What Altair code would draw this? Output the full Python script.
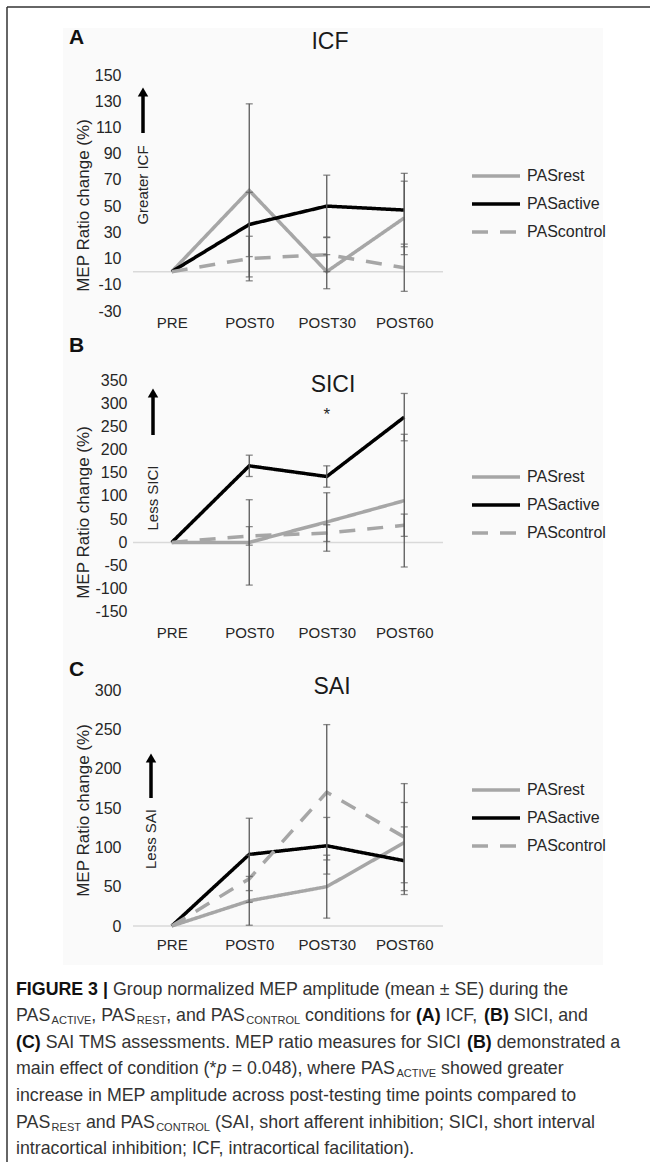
import altair as alt
import pandas as pd

# ---------------- data ----------------
times = ["PRE", "POST0", "POST30", "POST60"]
series = ["PASrest", "PASactive", "PAScontrol"]

icf_rest = [0, 62, 0, 41]
icf_rest_se = [0, 66, 13, 28]
icf_active = [0, 36, 50, 47]
icf_active_se = [0, 24.5, 23.6, 28]
icf_control = [0, 10, 13, 3]
icf_control_se = [0, 17, 13, 18]

sici_rest = [0, 0, 44, 90]
sici_rest_se = [0, 92, 63, 143]
sici_active = [0, 165, 142, 270]
sici_active_se = [0, 23, 23, 51]
sici_control = [0, 14, 20, 37]
sici_control_se = [0, 20, 18, 24]

sai_rest = [0, 32, 50, 106]
sai_rest_se = [0, 31, 40, 51]
sai_active = [0, 91, 102, 83]
sai_active_se = [0, 46, 36, 43]
sai_control = [0, 60, 170, 113]
sai_control_se = [0, 30, 86, 68]

icf_ticks = list(range(-30, 151, 20))
sici_ticks = list(range(-150, 351, 50))
sai_ticks = list(range(0, 301, 50))

star_time = ["POST30"]
star_value = [263]

caption_lines = [
    [("FIGURE 3 | ", "b"), ("Group normalized MEP amplitude (mean \u00b1 SE) during the", "n")],
    [("PAS", "n"), ("ACTIVE", "s"), (", PAS", "n"), ("REST", "s"), (", and PAS", "n"), ("CONTROL", "s"),
     (" conditions for ", "n"), ("(A)", "b"), (" ICF, ", "n"), ("(B)", "b"), (" SICI, and", "n")],
    [("(C)", "b"), (" SAI TMS assessments. MEP ratio measures for SICI ", "n"), ("(B)", "b"),
     (" demonstrated a", "n")],
    [("main effect of condition (*", "n"), ("p", "i"), (" = 0.048), where PAS", "n"), ("ACTIVE", "s"),
     (" showed greater", "n")],
    [("increase in MEP amplitude across post-testing time points compared to", "n")],
    [("PAS", "n"), ("REST", "s"), (" and PAS", "n"), ("CONTROL", "s"),
     (" (SAI, short afferent inhibition; SICI, short interval", "n")],
    [("intracortical inhibition; ICF, intracortical facilitation).", "n")],
]

# ---------------- styling helpers ----------------
FONT = "Liberation Sans"
GRAY = "#A6A6A6"
ERR = "#595959"
TXT = "#262626"


def make_df(vals, ses):
    rows = []
    for s, v, e in zip(series, vals, ses):
        for t, y, se in zip(times, v, e):
            rows.append({"time": t, "series": s, "value": y, "lo": y - se, "hi": y + se, "se": se})
    return pd.DataFrame(rows)


one = pd.DataFrame({"a": [0]})
zero_df = pd.DataFrame({"value": [0]})


def panel(df, ticks, dom, height, letter, title, tpos, letter_y, note, note_pos, arrow, legend_y, label_pad,
          title_y, ylab_pad, star=None, deco=None):
    xenc = alt.X("time:N", sort=times, scale=alt.Scale(type="point", padding=0.5),
                 axis=alt.Axis(title=None, domain=False, ticks=False, labelFontSize=15, zindex=1,
                               labelPadding=label_pad, labelColor=TXT, labelAngle=0))
    yscale = alt.Scale(domain=dom, nice=False, zero=False)
    yaxis = alt.Axis(values=ticks, grid=False, domain=False, ticks=False, labelFontSize=16,
                     labelPadding=ylab_pad, labelColor=TXT, labelOverlap=False, zindex=1,
                     labelExpr="'' + datum.value",
                     title="MEP Ratio change (%)", titleFontSize=17, titleFontWeight="normal",
                     titleColor=TXT, titleX=-50, titleY=title_y, titleAngle=270,
                     titleBaseline="middle", titleAlign="center")

    def Y(f):
        return alt.Y(f, scale=yscale, axis=yaxis)

    leg = alt.Legend(orient="none", legendX=337, legendY=legend_y, title=None, symbolType="stroke",
                     symbolSize=2304, symbolStrokeWidth=3.5, labelFontSize=16, labelColor=TXT,
                     labelOffset=5, clipHeight=16, rowPadding=12, labelFont=FONT)

    base = alt.Chart(df)
    zero = alt.Chart(zero_df).mark_rule(color="#D9D9D9", strokeWidth=1.5).encode(y=Y("value:Q"))
    lines = base.mark_line(strokeWidth=3.5).encode(
        x=xenc, y=Y("value:Q"),
        color=alt.Color("series:N", scale=alt.Scale(domain=series, range=[GRAY, "#000000", GRAY]), legend=leg),
        strokeDash=alt.StrokeDash("series:N", scale=alt.Scale(domain=series, range=[[1, 0], [1, 0], [16, 12]]),
                                  legend=leg),
    )
    eb = base.transform_filter("datum.se > 0")
    bars = eb.mark_rule(color=ERR, strokeWidth=1.3).encode(x=xenc, y=Y("lo:Q"), y2="hi:Q")
    cap_lo = eb.mark_tick(color=ERR, size=7, thickness=1.3).encode(x=xenc, y=Y("lo:Q"))
    cap_hi = eb.mark_tick(color=ERR, size=7, thickness=1.3).encode(x=xenc, y=Y("hi:Q"))

    ttl = alt.Chart(one).mark_text(text=title, fontSize=23, color="#1a1a1a", align="center",
                                   baseline="middle").encode(x=alt.value(tpos[0]), y=alt.value(tpos[1]))
    let = alt.Chart(one).mark_text(text=letter, fontSize=21, fontWeight="bold", color="#111111",
                                   align="left", baseline="middle").encode(x=alt.value(-64), y=alt.value(letter_y))
    nt = alt.Chart(one).mark_text(text=note, angle=270, fontSize=15, color=TXT, align="center",
                                  baseline="middle").encode(x=alt.value(note_pos[0]), y=alt.value(note_pos[1]))
    shaft = alt.Chart(one).mark_rule(color="#000000", strokeWidth=3.5).encode(
        x=alt.value(note_pos[0]), y=alt.value(arrow[0] + 8), y2=alt.value(arrow[1]))
    head = alt.Chart(one).mark_point(shape="triangle-up", filled=True, size=110, color="#000000",
                                     opacity=1).encode(x=alt.value(note_pos[0]), y=alt.value(arrow[0] + 5))

    layers = []
    if deco is not None:
        layers += deco
    layers += [zero, lines, bars, cap_lo, cap_hi, ttl, let, nt, shaft, head]
    if star is not None:
        sdf = pd.DataFrame({"time": star[0], "value": star[1]})
        layers.append(alt.Chart(sdf).mark_text(text="*", fontSize=17, color=TXT, baseline="alphabetic")
                      .encode(x=xenc, y=Y("value:Q")))
    return alt.layer(*layers).properties(width=310, height=height)


# frame + light background (decoration), relative to panel A plot origin
bg = alt.Chart(one).mark_rect(color="#FAFAFA").encode(
    x=alt.value(-70), x2=alt.value(470), y=alt.value(-47), y2=alt.value(890))
frame_l = alt.Chart(one).mark_rule(color="#333333", strokeWidth=1.5).encode(
    x=alt.value(-126), y=alt.value(-68), y2=alt.value(1087))
frame_t = alt.Chart(one).mark_rule(color="#333333", strokeWidth=1.5).encode(
    x=alt.value(-126), x2=alt.value(517), y=alt.value(-68))

pA = panel(make_df([icf_rest, icf_active, icf_control], [icf_rest_se, icf_active_se, icf_control_se]),
           icf_ticks, [-30, 150], 236, "A", "ICF", (197, -33), -37, "Greater ICF", (10, 110), (12, 58), 93, 4,
           130, 12, deco=[bg, frame_l, frame_t])
pB = panel(make_df([sici_rest, sici_active, sici_control], [sici_rest_se, sici_active_se, sici_control_se]),
           sici_ticks, [-169.4, 350], 241, "B", "SICI", (200, 5), -34, "Less SICI", (20, 118), (8, 55), 89, 4,
           132, 6, star=(star_time, star_value))
pC = panel(make_df([sai_rest, sai_active, sai_control], [sai_rest_se, sai_active_se, sai_control_se]),
           sai_ticks, [0, 300], 236, "C", "SAI", (199, -3), -20, "Less SAI", (18, 149), (63, 108), 92, 11,
           120, 12)

# ---------------- caption ----------------
AR = {" ": .278, "!": .278, "%": .889, "(": .333, ")": .333, "*": .389, ",": .278, "-": .333, ".": .278,
      ";": .278, "=": .584, "|": .260, "\u00b1": .584, ":": .278,
      "A": .667, "B": .667, "C": .722, "D": .722, "E": .667, "F": .611, "G": .778, "H": .722, "I": .278,
      "J": .5, "K": .667, "L": .556, "M": .833, "N": .722, "O": .778, "P": .667, "Q": .778, "R": .722,
      "S": .667, "T": .611, "U": .722, "V": .667, "W": .944, "X": .667, "Y": .667, "Z": .611,
      "a": .556, "b": .556, "c": .5, "d": .556, "e": .556, "f": .278, "g": .556, "h": .556, "i": .222,
      "j": .222, "k": .5, "l": .222, "m": .833, "n": .556, "o": .556, "p": .556, "q": .556, "r": .333,
      "s": .5, "t": .278, "u": .556, "v": .5, "w": .722, "x": .5, "y": .5, "z": .5}
for d in "0123456789":
    AR[d] = .556
ARB = {"A": .722, "B": .722, "C": .722, "E": .667, "F": .611, "G": .778, "I": .278, "R": .722, "U": .722,
       "|": .280}

FS = 17.8
SUB = 11
sizes = {"n": FS, "b": FS, "i": FS, "s": SUB}


def tw(s, style):
    tab = ARB if style == "b" else {}
    return sum(tab.get(c, AR.get(c, .556)) for c in s) * sizes[style]


X0 = -117
Y0 = -0.5
LH = 26.6
segs = []
for li, line in enumerate(caption_lines):
    cur = X0
    for text, style in line:
        lead = len(text) - len(text.lstrip(" "))
        stripped = text.strip(" ")
        xs = cur + lead * AR[" "] * sizes[style]
        yb = Y0 + li * LH + (3 if style == "s" else 0)
        if stripped:
            segs.append({"x": xs, "y": yb, "text": stripped, "style": style})
        cur += tw(text, style)
cdf = pd.DataFrame(segs)


def cap_layer(style, **kw):
    return alt.Chart(cdf[cdf["style"] == style]).mark_text(
        align="left", baseline="alphabetic", font=FONT, **kw).encode(
        x=alt.X("x:Q", scale=None), y=alt.Y("y:Q", scale=None), text="text:N")


cap = alt.layer(
    cap_layer("n", fontSize=FS, color="#333333"),
    cap_layer("b", fontSize=FS, fontWeight="bold", color="#111111"),
    cap_layer("i", fontSize=FS, fontStyle="italic", color="#333333"),
    cap_layer("s", fontSize=SUB, color="#333333"),
).properties(width=310, height=150)

chart = alt.vconcat(pA, pB, pC, cap, spacing=69, bounds="flush").resolve_scale(
    x="independent", y="independent", color="independent", strokeDash="independent").properties(
    padding={"left": 6, "top": 6, "right": 0, "bottom": 0}, background="#FFFFFF"
).configure(font=FONT).configure_view(strokeWidth=0)

chart.save("out.html", embed_options={"renderer": "svg", "actions": False})
